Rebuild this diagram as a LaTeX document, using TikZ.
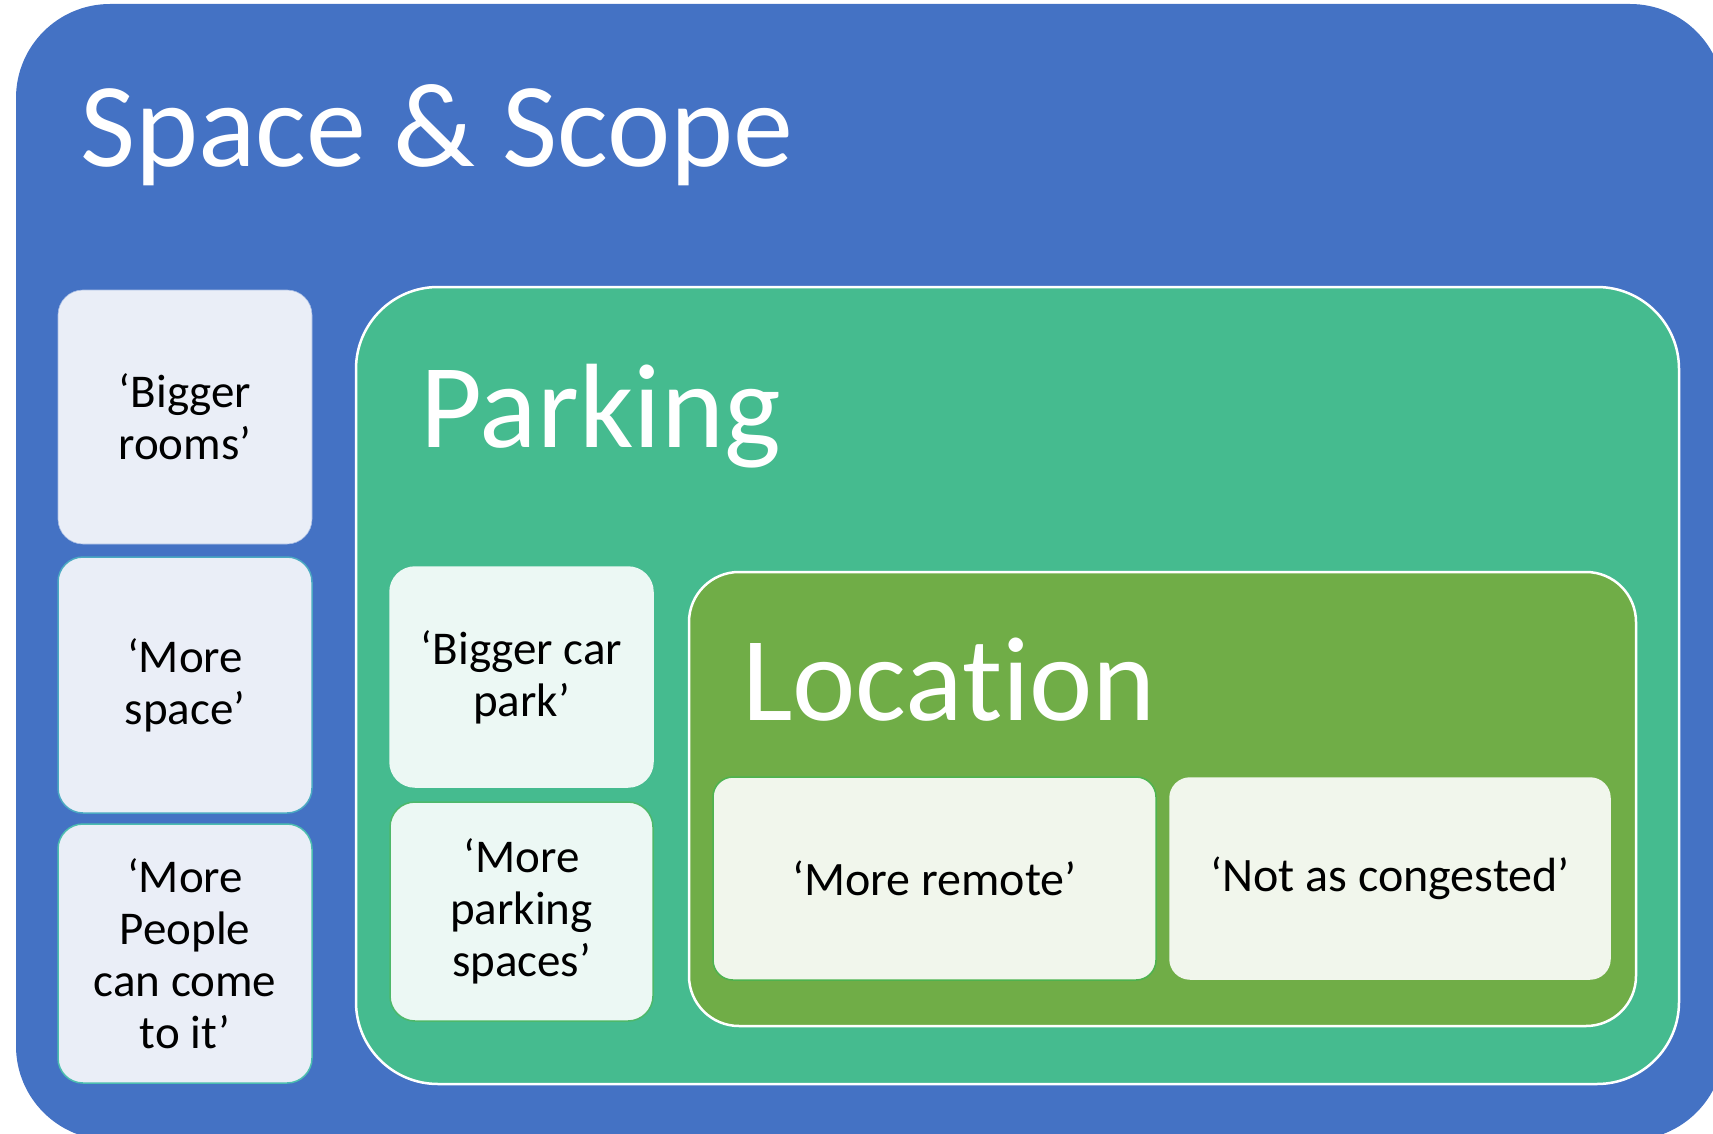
\documentclass[tikz,border=0pt]{standalone}
\usepackage{fontspec}
\setmainfont[Ligatures=NoCommon]{Carlito}
\definecolor{outerblue}{HTML}{4472C4}
\definecolor{parkgreen}{HTML}{45BB8F}
\definecolor{locgreen}{HTML}{70AD47}
\definecolor{leftfill}{HTML}{EAEEF7}
\definecolor{parkfill}{HTML}{ECF8F4}
\definecolor{locfill}{HTML}{F1F6EC}
\definecolor{edgeA}{HTML}{A9BEE4}
\definecolor{edgeB}{HTML}{4BA9C2}
\definecolor{edgeC}{HTML}{4CBDB0}
\definecolor{edgeD}{HTML}{4DB86A}
\definecolor{edgeE}{HTML}{4DB34F}
\tikzset{
  bigtitle/.style={anchor=base west, inner sep=0pt, text=white, font=\fontsize{120}{144}\selectfont},
  itembox/.style={rounded corners=25pt, align=center, inner sep=0pt, text=black,
    font=\fontsize{47}{52}\selectfont, line width=1.5pt},
  locbox/.style={itembox, rounded corners=20pt, font=\fontsize{48}{56}\selectfont}
}
\begin{document}
\begin{tikzpicture}[x=1pt,y=-1pt]
\useasboundingbox (0,0) rectangle (1713,1134);
\clip (0,0) rectangle (1713,1134);
\node[fill=outerblue, rounded corners=94pt, minimum width=1708pt, minimum height=1136pt, inner sep=0pt] (outer) at (870,572) {};
\node[bigtitle] (t1) at (80,167) {Space \& Scope};
% left column
\node[itembox, fill=leftfill, draw=edgeA, line width=0.6pt, minimum width=254pt, minimum height=254pt] (b1) at (185,417) {‘Bigger\\rooms’};
\node[itembox, fill=leftfill, draw=edgeB, minimum width=254pt, minimum height=256pt] (b2) at (185,685) {‘More\\space’};
\node[itembox, fill=leftfill, draw=edgeC, minimum width=254pt, minimum height=259pt] (b3) at (185,953.5) {‘More\\People\\can come\\to it’};
% parking
\node[fill=parkgreen, draw=white, line width=2.5pt, rounded corners=82pt, minimum width=1323pt, minimum height=797pt, inner sep=0pt] (park) at (1017.5,685.5) {};
\node[bigtitle] (t2) at (420,447) {Parking};
\node[itembox, fill=parkfill, draw=parkfill, minimum width=263pt, minimum height=220pt] (p1) at (521.5,677) {‘Bigger car\\park’};
\node[itembox, fill=parkfill, draw=edgeD, minimum width=263pt, minimum height=219pt] (p2) at (521.5,911.5) {‘More\\parking\\spaces’};
% location
\node[fill=locgreen, draw=white, line width=2.5pt, rounded corners=50pt, minimum width=947pt, minimum height=454pt, inner sep=0pt] (loc) at (1162.5,799) {};
\node[bigtitle] (t3) at (742,720) {Location};
\node[locbox, fill=locfill, draw=edgeE, minimum width=443pt, minimum height=203pt] (l1) at (934.5,878.5) {‘More remote’};
\node[locbox, fill=locfill, draw=locfill, minimum width=440pt, minimum height=201pt] (l2) at (1390,878.5) {‘Not as congested’};
\end{tikzpicture}
\end{document}
